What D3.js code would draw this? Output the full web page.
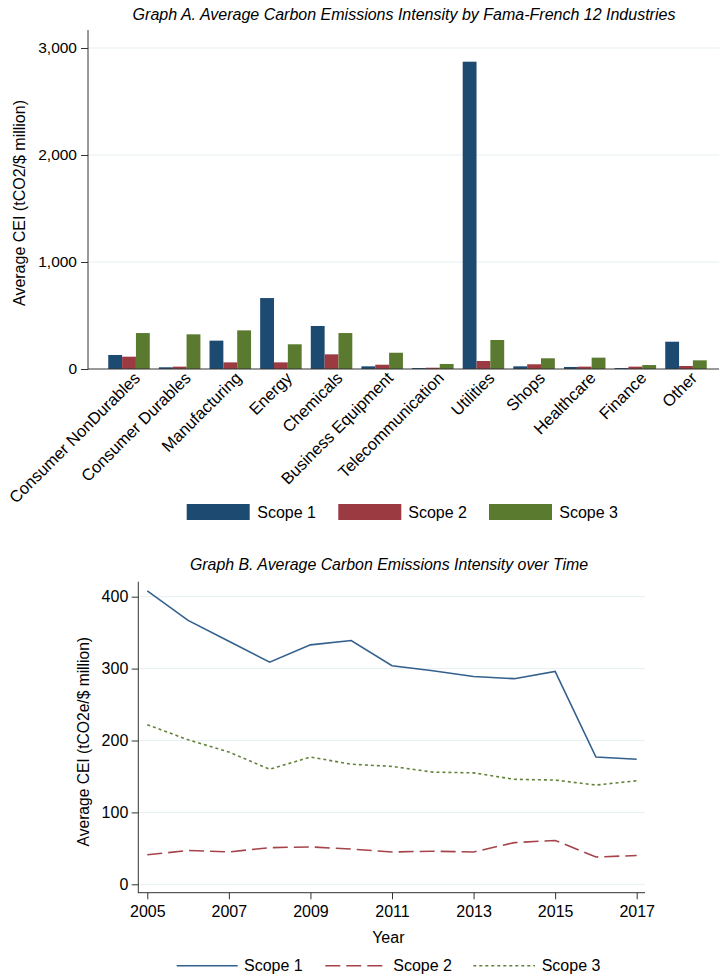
<!DOCTYPE html>
<html><head><meta charset="utf-8">
<script src="https://cdn.jsdelivr.net/npm/d3@7"></script>
<style>body{margin:0;background:#fff}svg{display:block}text{font-family:"Liberation Sans",Arial,Helvetica,sans-serif;fill:#000}</style>
</head><body>
<script>
// ---------- Data ----------
const industries = ["Consumer NonDurables","Consumer Durables","Manufacturing","Energy","Chemicals","Business Equipment","Telecommunication","Utilities","Shops","Healthcare","Finance","Other"];
const scopes = ["Scope 1","Scope 2","Scope 3"];
const scope1ByInd = [131,16,265,663,402,25,9,2872,25,19,9,255];
const scope2ByInd = [115,22,62,62,137,40,12,75,44,22,22,28];
const scope3ByInd = [336,324,361,231,336,152,47,271,100,106,37,81];
const yTicksA = [0,1000,2000,3000];

const years = [2005,2006,2007,2008,2009,2010,2011,2012,2013,2014,2015,2016,2017];
const scope1ByYear = [408,367,338,309,333,339,304,297,289,286,296,177,174];
const scope2ByYear = [41,47,45,51,52,49,45,46,45,58,61,38,40];
const scope3ByYear = [222,201,184,160,177,167,164,156,155,146,145,138,144];
const yTicksB = [0,100,200,300,400];
const xTicksB = [2005,2007,2009,2011,2013,2015,2017];

const barColors = ["#1c4a71","#9b3a41","#5a7a30"];
const lineColors = ["#33608c","#a5434b","#62823a"];
const gridColor = "#e6eff2";

const svg = d3.select("body").append("svg").attr("width",719).attr("height",974);

// ---------- Graph A ----------
const gA = svg.append("g");
const yA = d3.scaleLinear().domain([0,3000]).range([369,48]);
const xA = d3.scaleBand().domain(industries).range([88,727]).paddingInner(0.18).paddingOuter(0.4);
const xSub = d3.scaleBand().domain(scopes).range([0,xA.bandwidth()]);

gA.append("text").attr("x",404).attr("y",20).attr("text-anchor","middle")
  .style("font-style","italic").style("font-size","16px")
  .text("Graph A. Average Carbon Emissions Intensity by Fama-French 12 Industries");

gA.selectAll("line.grid").data(yTicksA.filter(d=>d>0)).join("line")
  .attr("x1",88).attr("x2",719).attr("y1",d=>yA(d)).attr("y2",d=>yA(d))
  .attr("stroke",gridColor).attr("stroke-width",1);

const barData = [];
industries.forEach((ind,i)=>{
  [scope1ByInd,scope2ByInd,scope3ByInd].forEach((arr,j)=>barData.push({ind,scope:scopes[j],v:arr[i],j}));
});
gA.selectAll("rect.bar").data(barData).join("rect")
  .attr("x",d=>xA(d.ind)+xSub(d.scope)).attr("width",xSub.bandwidth())
  .attr("y",d=>yA(d.v)).attr("height",d=>yA(0)-yA(d.v))
  .attr("fill",d=>barColors[d.j]);

const axA = gA.append("g").attr("transform","translate(88,0)")
  .call(d3.axisLeft(yA).tickValues(yTicksA).tickFormat(d3.format(",")).tickSize(7).tickPadding(4));
axA.select(".domain").remove();
axA.selectAll("text").style("font-size","15.5px").attr("fill","#000");
axA.selectAll("line").attr("stroke","#333");
gA.append("line").attr("x1",88).attr("x2",88).attr("y1",30).attr("y2",369.5).attr("stroke","#333");
gA.append("line").attr("x1",88).attr("x2",719).attr("y1",369).attr("y2",369).attr("stroke","#333");

gA.selectAll("text.xl").data(industries).join("text")
  .attr("transform",d=>`translate(${xA(d)+xA.bandwidth()/2+8},375) rotate(-45)`)
  .attr("text-anchor","end").attr("dy","0.35em").style("font-size","16.5px").text(d=>d);

gA.append("text").attr("transform","translate(25,203) rotate(-90)").attr("text-anchor","middle")
  .style("font-size","16px").text("Average CEI (tCO2/$ million)");

// legend A
const legA = [{x:186.7,tx:257.3},{x:338.3,tx:408.3},{x:489,tx:559.3}];
legA.forEach((l,i)=>{
  gA.append("rect").attr("x",l.x).attr("y",504).attr("width",63).attr("height",16).attr("fill",barColors[i]);
  gA.append("text").attr("x",l.tx).attr("y",518).style("font-size","16px").text(scopes[i]);
});

// ---------- Graph B ----------
const gB = svg.append("g");
const xB = d3.scaleLinear().domain([2005,2017]).range([147.3,636.7]);
const yB = d3.scaleLinear().domain([0,400]).range([884.3,596.7]);

gB.append("text").attr("x",389).attr("y",570).attr("text-anchor","middle")
  .style("font-style","italic").style("font-size","15.9px")
  .text("Graph B. Average Carbon Emissions Intensity over Time");

gB.selectAll("line.grid").data(yTicksB).join("line")
  .attr("x1",138.3).attr("x2",645).attr("y1",d=>yB(d)).attr("y2",d=>yB(d))
  .attr("stroke",gridColor).attr("stroke-width",1);

const series = [scope1ByYear,scope2ByYear,scope3ByYear];
const dashes = [null,"15,6","3,3"];
const line = d3.line().x((d,i)=>xB(years[i])).y(d=>yB(d));
series.forEach((s,i)=>{
  gB.append("path").datum(s).attr("d",line).attr("fill","none")
    .attr("stroke",lineColors[i]).attr("stroke-width",1.6)
    .attr("stroke-dasharray",dashes[i]);
});

const ayB = gB.append("g").attr("transform","translate(138.3,0)")
  .call(d3.axisLeft(yB).tickValues(yTicksB).tickSize(6.6).tickPadding(3.4));
ayB.select(".domain").remove();
ayB.selectAll("text").style("font-size","16px").attr("fill","#000");
ayB.selectAll("line").attr("stroke","#333");
const axB = gB.append("g").attr("transform","translate(0,892.7)")
  .call(d3.axisBottom(xB).tickValues(xTicksB).tickFormat(d3.format("d")).tickSize(6.6).tickPadding(6.6));
axB.select(".domain").remove();
axB.selectAll("text").style("font-size","16px").attr("fill","#000");
axB.selectAll("line").attr("stroke","#333");
gB.append("line").attr("x1",138.3).attr("x2",138.3).attr("y1",581.7).attr("y2",893.2).attr("stroke","#333");
gB.append("line").attr("x1",138.3).attr("x2",645).attr("y1",892.7).attr("y2",892.7).attr("stroke","#333");

gB.append("text").attr("transform","translate(89,741.7) rotate(-90)").attr("text-anchor","middle")
  .style("font-size","15.6px").text("Average CEI (tCO2e/$ million)");
gB.append("text").attr("x",388.3).attr("y",943.3).attr("text-anchor","middle").style("font-size","16px").text("Year");

const legB = [{x1:176.7,x2:237.7,tx:244},{x1:325.3,x2:386.7,tx:393.3},{x1:473.3,x2:535,tx:541.7}];
legB.forEach((l,i)=>{
  gB.append("line").attr("x1",l.x1).attr("x2",l.x2).attr("y1",965.7).attr("y2",965.7)
    .attr("stroke",lineColors[i]).attr("stroke-width",1.6).attr("stroke-dasharray",dashes[i]);
  gB.append("text").attr("x",l.tx).attr("y",971).style("font-size","16px").text(scopes[i]);
});
</script>
</body></html>
